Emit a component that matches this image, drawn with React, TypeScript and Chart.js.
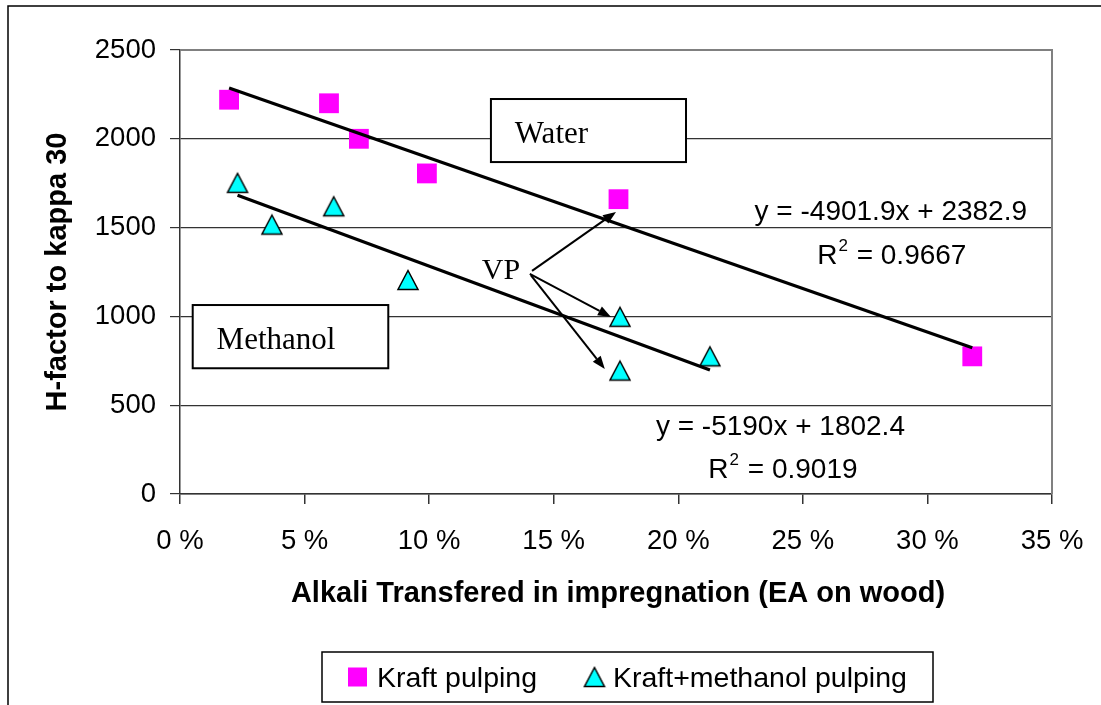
import React, { useEffect, useRef } from "react";
import { Chart, registerables } from "chart.js";
Chart.register(...registerables);

const SANS = "'Liberation Sans', Arial, sans-serif";
const SERIF = "'Liberation Serif', 'Times New Roman', serif";

// ---- data ----
const seriesLabels = ["Kraft pulping", "Kraft+methanol pulping"];
const kraftAlkali = [0.0197, 0.0598, 0.0718, 0.0991, 0.176, 0.318];
const kraftHFactor = [2220, 2200, 2000, 1805, 1660, 775];
const methanolAlkali = [0.0231, 0.0369, 0.0617, 0.0915, 0.1766, 0.1766, 0.2127];
const methanolHFactor = [1752, 1517, 1620, 1205, 998, 695, 775];

const waterFit = [-4901.9, 2382.9]; // slope, intercept
const methanolFit = [-5190, 1802.4];
const waterEq = ["y = -4901.9x + 2382.9", "0.9667"];
const methanolEq = ["y = -5190x + 1802.4", "0.9019"];

const xTickValues = [0, 0.05, 0.1, 0.15, 0.2, 0.25, 0.3, 0.35];
const xTickLabels = ["0 %", "5 %", "10 %", "15 %", "20 %", "25 %", "30 %", "35 %"];
const yTickValues = [0, 500, 1000, 1500, 2000, 2500];
const yTickLabels = ["0", "500", "1000", "1500", "2000", "2500"];

const xTitle = "Alkali Transfered in impregnation (EA on wood)";
const yTitle = "H-factor to kappa 30";

// ---- annotation placement (data units) ----
const waterBox = [0.1248, 2224, 0.2031, 1869, 0.1344, 1978];
const methanolBox = [0.0051, 1064, 0.0836, 708, 0.0147, 815];
const vpLabel = [0.1211, 1211];
const vpArrows = [
  [0.1413, 1256, 0.175, 1588],
  [0.1404, 1239, 0.173, 997],
  [0.1408, 1233, 0.1705, 704],
];
const waterEqPos = [0.2853, 1540, 0.2855, 1293];
const methanolEqPos = [0.241, 332, 0.2418, 90];

function makeTriangle(): HTMLCanvasElement {
  const c = document.createElement("canvas");
  c.width = 24;
  c.height = 24;
  const g = c.getContext("2d")!;
  g.beginPath();
  g.moveTo(12, 2.5);
  g.lineTo(22, 21.5);
  g.lineTo(2, 21.5);
  g.closePath();
  g.fillStyle = "#00FFFF";
  g.fill();
  g.lineWidth = 1.5;
  g.strokeStyle = "#000";
  g.stroke();
  return c;
}

function fitLine(xs: number[], fit: number[]) {
  const lo = Math.min(...xs);
  const hi = Math.max(...xs);
  return [
    { x: lo, y: fit[0] * lo + fit[1] },
    { x: hi, y: fit[0] * hi + fit[1] },
  ];
}

function labelFor(vals: number[], labels: string[], v: any) {
  const i = vals.findIndex((t) => Math.abs(t - Number(v)) < 1e-9);
  return i >= 0 ? labels[i] : "";
}

export default function App() {
  const ref = useRef<HTMLCanvasElement>(null);

  useEffect(() => {
    document.body.style.margin = "0";
    const tri = makeTriangle();

    const overlay = {
      id: "overlay",
      afterDraw(chart: any) {
        const ctx = chart.ctx as CanvasRenderingContext2D;
        const xs = chart.scales.x;
        const ys = chart.scales.y;
        const X = (v: number) => xs.getPixelForValue(v);
        const Y = (v: number) => ys.getPixelForValue(v);
        const ca = chart.chartArea;
        ctx.save();

        // plot area top/right border
        ctx.strokeStyle = "#808080";
        ctx.lineWidth = 2;
        ctx.beginPath();
        ctx.moveTo(ca.left, ca.top);
        ctx.lineTo(ca.right, ca.top);
        ctx.lineTo(ca.right, ca.bottom);
        ctx.stroke();

        // outer frame
        ctx.strokeStyle = "#000";
        ctx.lineWidth = 1.5;
        ctx.beginPath();
        ctx.moveTo(8, 705);
        ctx.lineTo(8, 6);
        ctx.lineTo(1101, 6);
        ctx.stroke();

        // text boxes
        const drawBox = (b: number[], text: string) => {
          const x0 = X(b[0]), y0 = Y(b[1]), x1 = X(b[2]), y1 = Y(b[3]);
          ctx.fillStyle = "#fff";
          ctx.fillRect(x0, y0, x1 - x0, y1 - y0);
          ctx.strokeStyle = "#000";
          ctx.lineWidth = 2;
          ctx.strokeRect(x0, y0, x1 - x0, y1 - y0);
          ctx.fillStyle = "#000";
          ctx.font = `31px ${SERIF}`;
          ctx.textAlign = "left";
          ctx.textBaseline = "alphabetic";
          ctx.fillText(text, X(b[4]), Y(b[5]));
        };
        drawBox(waterBox, "Water");
        drawBox(methanolBox, "Methanol");

        // VP label + arrows
        ctx.fillStyle = "#000";
        ctx.font = `30px ${SERIF}`;
        ctx.textAlign = "left";
        ctx.textBaseline = "alphabetic";
        ctx.fillText("VP", X(vpLabel[0]), Y(vpLabel[1]));
        ctx.strokeStyle = "#000";
        ctx.lineWidth = 2;
        vpArrows.forEach((a) => {
          const x0 = X(a[0]), y0 = Y(a[1]), x1 = X(a[2]), y1 = Y(a[3]);
          const ang = Math.atan2(y1 - y0, x1 - x0);
          const L = 13, W = 5;
          const bx = x1 - L * Math.cos(ang), by = y1 - L * Math.sin(ang);
          ctx.beginPath();
          ctx.moveTo(x0, y0);
          ctx.lineTo(bx, by);
          ctx.stroke();
          ctx.beginPath();
          ctx.moveTo(x1, y1);
          ctx.lineTo(bx + W * Math.sin(ang), by - W * Math.cos(ang));
          ctx.lineTo(bx - W * Math.sin(ang), by + W * Math.cos(ang));
          ctx.closePath();
          ctx.fill();
        });

        // equations
        const drawEq = (eq: string[], pos: number[]) => {
          ctx.fillStyle = "#000";
          ctx.textBaseline = "alphabetic";
          ctx.font = `28px ${SANS}`;
          ctx.textAlign = "center";
          ctx.fillText(eq[0], X(pos[0]), Y(pos[1]));
          const big = `28px ${SANS}`;
          const small = `17px ${SANS}`;
          ctx.font = big;
          const wR = ctx.measureText("R").width;
          const rest = " = " + eq[1];
          const wRest = ctx.measureText(rest).width;
          ctx.font = small;
          const w2 = ctx.measureText("2").width + 1;
          const total = wR + w2 + wRest;
          let x = X(pos[2]) - total / 2;
          const by = Y(pos[3]);
          ctx.textAlign = "left";
          ctx.font = big;
          ctx.fillText("R", x, by);
          x += wR + 1;
          ctx.font = small;
          ctx.fillText("2", x, by - 13);
          x += w2;
          ctx.font = big;
          ctx.fillText(rest, x, by);
        };
        drawEq(waterEq, waterEqPos);
        drawEq(methanolEq, methanolEqPos);

        // axis titles
        ctx.fillStyle = "#000";
        ctx.font = `bold 29px ${SANS}`;
        ctx.textAlign = "center";
        ctx.textBaseline = "alphabetic";
        ctx.fillText(xTitle, (ca.left + ca.right) / 2 + 2, 602);
        ctx.save();
        ctx.translate(58, (ca.top + ca.bottom) / 2);
        ctx.rotate(-Math.PI / 2);
        ctx.textBaseline = "middle";
        ctx.fillText(yTitle, 0, 0);
        ctx.restore();

        // legend
        ctx.fillStyle = "#fff";
        ctx.fillRect(322, 652, 611, 50);
        ctx.strokeStyle = "#000";
        ctx.lineWidth = 1.5;
        ctx.strokeRect(322, 652, 611, 50);
        ctx.fillStyle = "#FF00FF";
        ctx.fillRect(348, 667.5, 19, 19);
        ctx.drawImage(tri, 594.5 - 12, 677 - 12);
        ctx.fillStyle = "#000";
        ctx.font = `28.5px ${SANS}`;
        ctx.textAlign = "left";
        ctx.textBaseline = "alphabetic";
        ctx.fillText(seriesLabels[0], 377, 687);
        ctx.fillText(seriesLabels[1], 613, 687);

        ctx.restore();
      },
    };

    const chart = new Chart(ref.current!, {
      type: "scatter",
      data: {
        datasets: [
          {
            label: seriesLabels[0],
            data: kraftAlkali.map((x, i) => ({ x, y: kraftHFactor[i] })),
            pointStyle: "rect",
            pointRadius: 14,
            pointHoverRadius: 14,
            backgroundColor: "#FF00FF",
            borderWidth: 0,
            order: 2,
          },
          {
            label: seriesLabels[1],
            data: methanolAlkali.map((x, i) => ({ x, y: methanolHFactor[i] })),
            pointStyle: tri as any,
            pointRadius: 12,
            order: 2,
          },
          {
            label: "Water trend",
            data: fitLine(kraftAlkali, waterFit),
            showLine: true,
            borderColor: "#000",
            borderWidth: 3.2,
            pointRadius: 0,
            order: 1,
          },
          {
            label: "Methanol trend",
            data: fitLine(methanolAlkali, methanolFit),
            showLine: true,
            borderColor: "#000",
            borderWidth: 3.2,
            pointRadius: 0,
            order: 1,
          },
        ],
      },
      options: {
        responsive: false,
        animation: false,
        devicePixelRatio: 1,
        layout: { padding: { left: 0, top: 50, right: 49, bottom: 0 } },
        plugins: { legend: { display: false }, tooltip: { enabled: false } },
        scales: {
          x: {
            type: "linear",
            min: 0,
            max: 0.35,
            afterBuildTicks: (s: any) => {
              s.ticks = xTickValues.map((v) => ({ value: v }));
            },
            afterFit: (s: any) => {
              s.height = 211;
              s.paddingLeft = 0;
              s.paddingRight = 0;
            },
            ticks: {
              autoSkip: false,
              maxRotation: 0,
              padding: 21,
              color: "#000",
              font: { family: SANS, size: 27.5 },
              callback: (v: any) => labelFor(xTickValues, xTickLabels, v),
            },
            grid: {
              drawOnChartArea: false,
              drawTicks: true,
              tickLength: 10,
              color: "#333",
              lineWidth: 1.5,
            },
            border: { display: true, color: "#333", width: 1.5 },
          },
          y: {
            type: "linear",
            min: 0,
            max: 2500,
            afterBuildTicks: (s: any) => {
              s.ticks = yTickValues.map((v) => ({ value: v }));
            },
            afterFit: (s: any) => {
              s.width = 180;
              s.paddingTop = 0;
              s.paddingBottom = 0;
            },
            ticks: {
              padding: 14,
              color: "#000",
              font: { family: SANS, size: 27.5 },
              callback: (v: any) => labelFor(yTickValues, yTickLabels, v),
            },
            grid: {
              drawTicks: true,
              tickLength: 10,
              color: (c: any) => (c.tick && c.tick.value === 2500 ? "#808080" : "#333"),
              tickColor: "#333",
              lineWidth: 1.2,
            },
            border: { display: true, color: "#333", width: 1.5 },
          },
        },
      },
      plugins: [overlay],
    });
    return () => chart.destroy();
  }, []);

  return <canvas ref={ref} width={1101} height={705} style={{ display: "block" }} />;
}
